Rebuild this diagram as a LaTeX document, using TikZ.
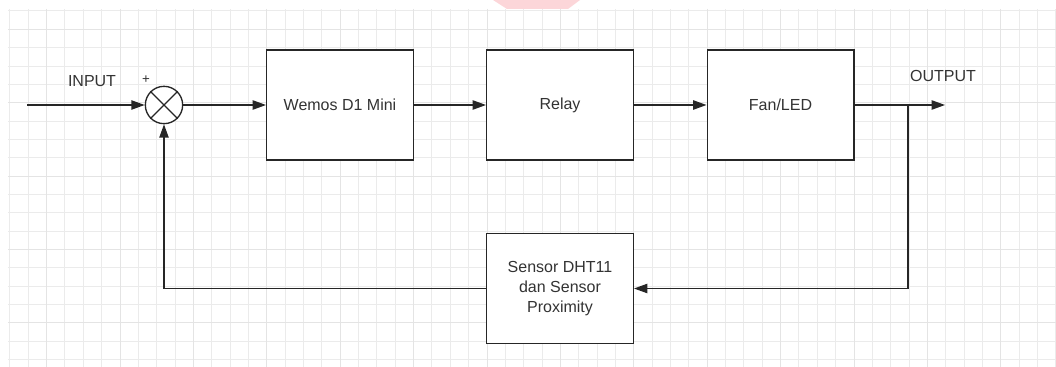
\documentclass[tikz,border=0pt]{standalone}
\usepackage{fontspec}
\setmainfont{Liberation Sans}
\usepackage{xcolor}
\usepackage{tikz}
\usetikzlibrary{arrows.meta,positioning,calc}
\tikzset{
  flowarrow/.style={-{Triangle[length=10pt,width=7pt]}, line width=1pt, draw=black!85},
  flowline/.style={line width=1pt, draw=black!85},
  gridminor/.style={draw=gray!16, line width=0.75pt},
  gridmajor/.style={draw=gray!21, line width=0.75pt}
}
\definecolor{SheetPink}{HTML}{FCD6D9}
\definecolor{BlockText}{HTML}{333333}

\begin{document}
\begin{tikzpicture}[
  x=0.75pt, y=-0.75pt,
  font=\fontsize{12}{15}\selectfont, text=BlockText,
  block/.style={draw=black!85, line width=1pt, fill=white, align=center, minimum width=110pt, minimum height=82.5pt, inner sep=2pt},
  junction/.style={circle, draw=black!85, line width=1pt, fill=white, minimum size=28pt, inner sep=0pt}
]
\useasboundingbox (0,0) rectangle (1056,367);
% sheet background
\fill[SheetPink] (493,0) -- (580,0) -- (568,9) -- (507,9) -- cycle;
\begin{scope}
  \clip (8,9) rectangle (1056,367);
  \foreach \i [evaluate=\i as \gx using 9.9+18.35*\i] in {0,...,57}
    \draw[gridminor] (\gx,9) -- (\gx,367);
  \foreach \j [evaluate=\j as \gy using 11+18.35*\j] in {0,...,19}
    \draw[gridminor] (8,\gy) -- (1056,\gy);
  \foreach \i [evaluate=\i as \gx using 46.6+73.4*\i] in {0,...,13}
    \draw[gridmajor] (\gx,9) -- (\gx,367);
  \foreach \j [evaluate=\j as \gy using 29.3+73.4*\j] in {0,...,4}
    \draw[gridmajor] (8,\gy) -- (1056,\gy);
\end{scope}

\node[junction] at (164,105) (sum) {};
\draw[flowline] (sum.north west) -- (sum.south east);
\draw[flowline] (sum.north east) -- (sum.south west);
\node[block] at (340,105) (wemos) {Wemos D1 Mini};
\node[block] at (560,105) (relay) {Relay};
\node[block] at (780.5,105) (fanled) {Fan/LED};
\node[block] at (560,288.5) (sensor) {Sensor DHT11\\dan Sensor\\Proximity};

\coordinate (inp) at (27,105);
\coordinate (tap) at (908,105);
\coordinate (outp) at (945,105);
\node at (92,81) (inlabel) {INPUT};
\node[font=\fontsize{10}{12}\selectfont] at (146,80) (plus) {+};
\node at (943,76) (outlabel) {OUTPUT};

% forward path
\draw[flowarrow] (inp) -- (sum.west);
\draw[flowarrow] (sum.east) -- (wemos.west);
\draw[flowarrow] (wemos.east) -- (relay.west);
\draw[flowarrow] (relay.east) -- (fanled.west);
\draw[flowarrow] (fanled.east) -- (outp);
% feedback path
\draw[flowarrow] (tap) |- (sensor.east);
\draw[flowarrow] (sensor.west) -| (sum.south);
\end{tikzpicture}
\end{document}
